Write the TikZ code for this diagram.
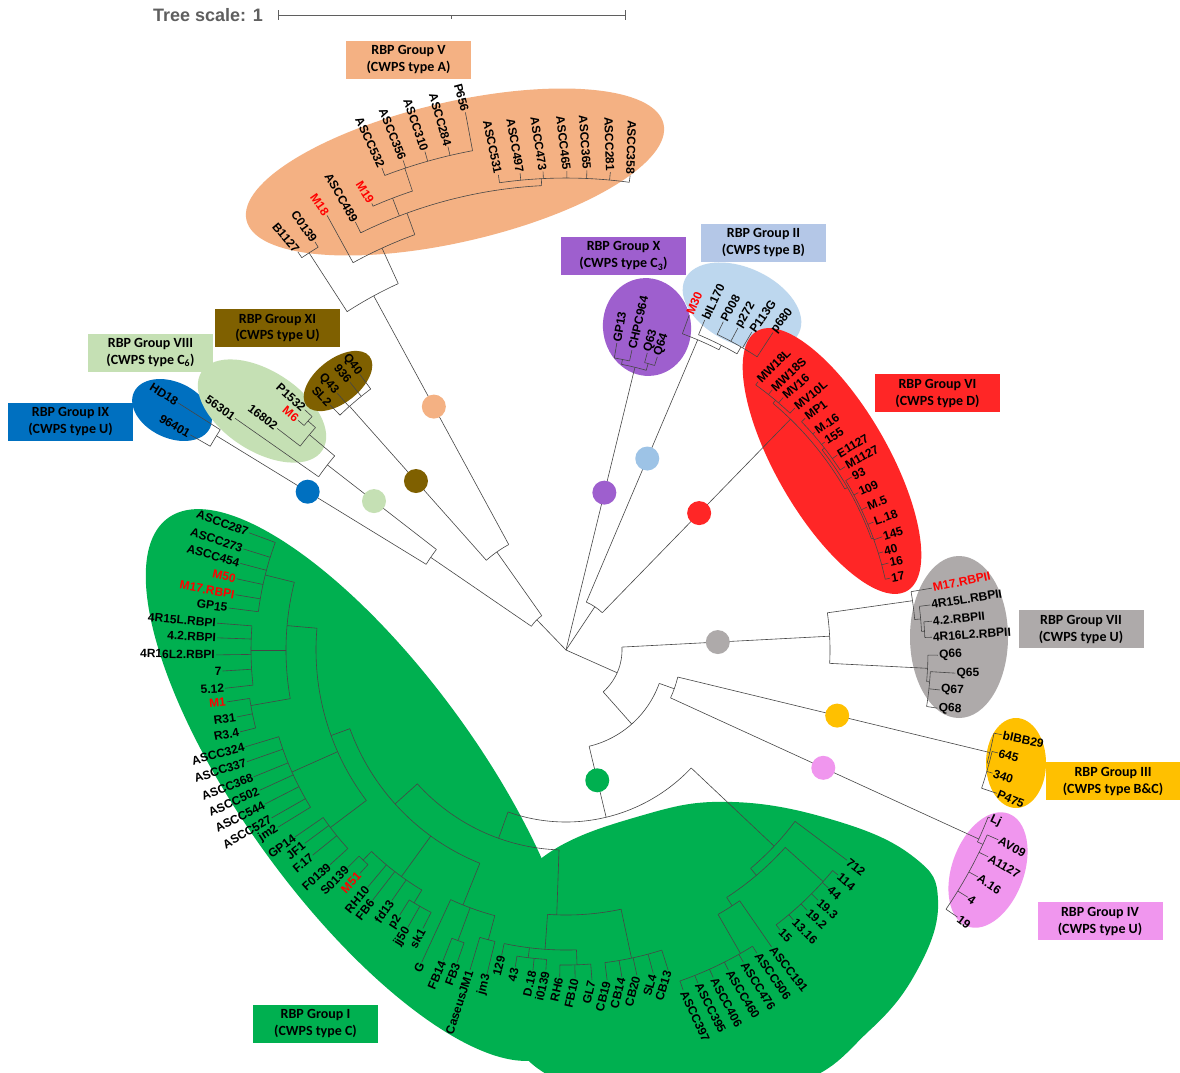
\documentclass[tikz,border=0pt]{standalone}
\usepackage{fontspec}
\setmainfont{Liberation Sans}
\newfontfamily\boxfont{Carlito}
\definecolor{grpV}{RGB}{244,177,131}
\definecolor{grpX}{RGB}{158,95,206}
\definecolor{grpII}{RGB}{189,215,238}
\definecolor{boxII}{RGB}{180,199,231}
\definecolor{dotII}{RGB}{157,195,230}
\definecolor{grpVI}{RGB}{255,38,38}
\definecolor{grpXI}{RGB}{127,96,0}
\definecolor{grpVIII}{RGB}{197,224,180}
\definecolor{grpIX}{RGB}{0,112,192}
\definecolor{grpVII}{RGB}{174,170,170}
\definecolor{grpIII}{RGB}{255,192,0}
\definecolor{grpIV}{RGB}{240,150,238}
\definecolor{grpI}{RGB}{0,176,80}
\definecolor{branch}{RGB}{70,70,70}
\definecolor{scalegray}{RGB}{95,95,95}
\definecolor{mred}{RGB}{255,0,0}

\begin{document}
\begin{tikzpicture}[x=1pt,y=-1pt,
  br/.style={draw=branch,line width=0.6pt},
  leaf/.style={inner sep=1pt,font=\bfseries\fontsize{12}{14}\selectfont},
  grpbox/.style={minimum width=125pt,minimum height=38pt,inner sep=0pt,align=center,
    font=\boxfont\bfseries\fontsize{14}{17}\selectfont},
  gdot/.style={circle,minimum size=24pt,inner sep=0pt}]
  \fill[white] (0,0) rectangle (1180,1072);
  \useasboundingbox (0,0) rectangle (1180,1072);

  % clade highlights
  \fill[grpI,rotate around={-54:(362,785)}] (362,785) ellipse [x radius=330,y radius=118];
  \fill[grpI] plot[smooth cycle,tension=0.7] coordinates
    {(543,857) (640,816) (733,802) (840,822) (915,858) (938,900) (920,965)
     (870,1030) (790,1085) (640,1095) (540,1070) (500,1000) (500,920)};
  \fill[grpV,rotate around={13:(455,172)}] (455,172) ellipse [x radius=214,y radius=70];
  \fill[grpX,rotate around={8:(647,327)}] (647,327) ellipse [x radius=44,y radius=49];
  \fill[grpII,rotate around={-25:(742,306)}] (742,306) ellipse [x radius=63,y radius=38];
  \fill[grpVI,rotate around={-60:(832,461)}] (832,461) ellipse [x radius=150,y radius=56];
  \fill[grpVII] (959,637) ellipse [x radius=49,y radius=81];
  \fill[grpIII] (1016,763) ellipse [x radius=30,y radius=45];
  \fill[grpIV,rotate around={-20:(988,870)}] (988,870) ellipse [x radius=36,y radius=60];
  \fill[grpIX,rotate around={-25:(172,410)}] (172,410) ellipse [x radius=42,y radius=28];
  \fill[grpVIII,rotate around={-33:(262,411)}] (262,411) ellipse [x radius=72,y radius=40];
  \fill[grpXI,rotate around={38:(338,381)}] (338,381) ellipse [x radius=40,y radius=22];

  % the tree, in polar coordinates round the root
  \begin{scope}[shift={(566,650)}]
    \foreach \pa/\pb/\rr in {-145.6/-125.2/42, -148.5/-142.2/164, -131.6/-118.5/120,
        -67/-45.8/52, -3/48.4/56, 19.7/76.5/99, 13.6/24.6/115, 43.3/109.7/172,
        -150.2/-147.5/410, -145/-140/302, -142.5/-138.4/335, -139.4/-137.4/345,
        -133.9/-126.8/326,
        -122.9/-114.6/403, -123.96/-121.6/473, -118.8/-110/442, -116.2/-93/465,
        -113.5/-108.5/484, -110.9/-100.6/508, -98.1/-82.3/472,
        -79/-74/291, -80.6/-77.6/296, -74.7/-72.7/298,
        -69.8/-63/337, -67.2/-60/342, -64.4/-56.9/350,
        -50/-30/322, -54.4/-46.6/326, -38/-20/325, -44.1/-33.3/328, -31.2/-12.5/327,
        -8.1/2.9/264, -9.6/-5/350, -7.05/-3/356, -4.5/-2/359, 0.8/5/362, 3.4/8.9/365,
        11/15/436, 13.4/18.4/438, 21.6/25/454, 23.7/34.3/460,
        36.8/49.8/286, 42/57/295, 39.6/52.6/346, 55.3/60.1/305, 57.8/71/350,
        92/138/200, 78/94/265, 88/101.9/300, 93.6/99.1/310, 85.5/91.1/315, 72.3/82.9/315,
        112/160/230, 105/114.8/275, 109.2/111.6/310, 103.7/106.7/300, 121/134/280,
        132.7/135.1/292, 117.2/122.1/295,
        143/185/250, 137.7/145.4/295, 148.4/163.2/300, 170/194/280, 187.1/200.3/310,
        173.6/184.4/315, 165.9/171.3/320}
      \draw[br] (\pa:\rr) arc[start angle=\pa,end angle=\pb,radius=\rr];
    \foreach \pa/\ra/\rr in {-134/0/42, -76.3/0/291, -56.3/0/52, 24/0/56,
        -145.6/42/164, -148.5/164/410, -142.2/164/302, -125.2/42/120, -131.6/120/326,
        -118.5/120/403, -67/52/337, -45.8/52/322, -3/56/264, 48.4/56/99, 19.7/99/115,
        13.6/115/436, 24.6/115/454, 76.5/99/172, 43.3/172/286, 109.7/172/200,
        -140/302/335, -138.4/335/345,
        -122.9/403/473, -114.6/403/442, -110/442/465, -111/465/484, -108.5/484/508, -93/465/472,
        -79/291/296, -74/291/298, -63/337/342, -60/342/350,
        -50/322/326, -30/322/325, -38/325/328, -20/325/327,
        -8.1/264/350, -5/350/356, -3/356/359, 2.9/264/362, 5/362/365,
        15/436/438, 25/454/460,
        49.8/286/295, 42/295/346, 57/295/305, 60.1/305/350,
        92/200/265, 94/265/300, 97/300/310, 88/300/315, 78/265/315,
        138/200/230, 112/230/275, 110.4/275/310, 105/275/300, 126/230/280, 134/280/292, 121/280/295,
        160/230/250, 143/250/295, 156/250/300, 185/250/280, 194/280/310, 180/280/315, 170/280/320}
      \draw[br] (\pa:\ra) -- (\pa:\rr);

    % clade dots
    \node[gdot,fill=grpV] (dV) at (-118.5:277) {};
    \node[gdot,fill=grpXI] (dXI) at (-131.6:226) {};
    \node[gdot,fill=grpVIII] (dVIII) at (-142.2:243) {};
    \node[gdot,fill=grpIX] (dIX) at (-148.5:303) {};
    \node[gdot,fill=grpX] (dX) at (-76.3:162) {};
    \node[gdot,fill=dotII] (dII) at (-67:208) {};
    \node[gdot,fill=grpVI] (dVI) at (-45.8:191) {};
    \node[gdot,fill=grpVII] (dVII) at (-3:152) {};
    \node[gdot,fill=grpIII] (dIII) at (13.6:279) {};
    \node[gdot,fill=grpIV] (dIV) at (24.6:283) {};
    \node[gdot,fill=grpI] (dI) at (76.5:134) {};

    % Group V
    \foreach \ang/\rr/\ra/\rot/\col/\lab [count=\i] in {
        -100.6/547/508/-75/black/P656, -103.2/517/508/-74/black/ASCC284,
        -105.8/518/508/-71/black/ASCC310, -108.4/516/508/-68/black/ASCC356,
        -110.9/516/508/-65/black/ASCC532, -113.5/487/484/-58/mred/M19,
        -116.2/477/465/-60/black/ASCC489, -118.8/496/442/-55/mred/M18,
        -121.6/479/473/-55/black/C0139, -123.96/480/473/-50/black/B1127,
        -98.1/480/472/-78/black/ASCC531, -95.5/479/472/-80/black/ASCC497,
        -92.75/479/472/-81/black/ASCC473, -89.9/479/472/-83/black/ASCC465,
        -87.5/480/472/-86/black/ASCC365, -84.7/480/472/-88/black/ASCC281,
        -82.3/479/472/-92/black/ASCC358}{
      \node[leaf,text=\col,rotate=\rot,anchor=east] (v\i) at (\ang:\rr) {\lab};
      \draw[br] (\ang:\ra) -- (v\i.east);
    }
    % Groups XI, VIII, IX
    \foreach \ang/\rr/\ra/\rot/\col/\lab [count=\i] in {
        -126.8/344/326/-53/black/Q40, -128.9/344/326/-51/black/936,
        -131.7/344/326/-48/black/Q43, -133.9/340/326/-46/black/SL2,
        -145/404/302/-35/black/56301, -142.5/364/335/-37/black/16802,
        -139.4/353/345/-40/mred/M6, -137.4/355/345/-42/black/P1532,
        -147.5/460/410/-32/black/HD18, -150.2/433/410/-30/black/96401}{
      \node[leaf,text=\col,rotate=\rot,anchor=east] (w\i) at (\ang:\rr) {\lab};
      \draw[br] (\ang:\ra) -- (w\i.east);
    }
    % Groups X, II, VI
    \foreach \ang/\rr/\ra/\rot/\col/\lab [count=\i] in {
        -80.6/311/296/80/black/GP13, -77.6/307/296/77/black/CHPC964,
        -74.7/308/298/74/black/Q63, -72.7/307/298/71/black/Q64,
        -69.8/357/337/67/mred/M30, -67.2/358/342/65/black/bIL170,
        -64.4/364/350/62/black/P008, -61.9/365/350/59/black/p272,
        -59.7/368/350/55/black/P113G, -56.9/379/350/52/black/p680,
        -54.4/330/326/45/black/MW18L, -51.6/332/326/43/black/MW18S,
        -49.3/333/326/41/black/MV16, -46.6/333/326/39/black/MV10L,
        -44.1/333/328/37/black/MP1, -41.2/331/328/35/black/M.16,
        -38.8/332/328/33/black/155, -35.7/334/328/31/black/E1127,
        -33.3/334/328/29/black/M1127, -31.2/334/327/27/black/93,
        -28.3/332/327/25/black/109, -25.4/333/327/22/black/M.5,
        -22.6/333/327/20/black/L.18, -19.7/336/327/17/black/145,
        -17.2/332/327/15/black/40, -15.1/334/327/12/black/16,
        -12.5/332/327/10/black/17}{
      \node[leaf,text=\col,rotate=\rot,anchor=west] (t\i) at (\ang:\rr) {\lab};
      \draw[br] (\ang:\ra) -- (t\i.west);
    }
    % Groups VII, III, IV
    \foreach \ang/\rr/\ra/\rot/\col/\lab [count=\i] in {
        -9.6/371/350/12/mred/M17.RBPII, -7.05/367/356/9/black/4R15L.RBPII,
        -4.5/367/359/6/black/4.2.RBPII, -2.0/366/359/4/black/4R16L2.RBPII,
        0.8/372/362/2/black/Q66, 3.4/390/365/0/black/Q65,
        6.1/376/365/-1/black/Q67, 8.9/376/365/-3/black/Q68,
        11/444/436/-12/black/bIBB29, 13.4/444/438/-15/black/645,
        16.1/444/438/-18/black/340, 18.4/454/438/-23/black/P475,
        21.6/456/454/-25/black/Lj, 23.7/472/460/-28/black/AV09,
        26.1/470/460/-30/black/A1127, 28.85/470/460/-33/black/A.16,
        31.6/472/460/-35/black/4, 34.3/474/460/-37/black/19}{
      \node[leaf,text=\col,rotate=\rot,anchor=west] (u\i) at (\ang:\rr) {\lab};
      \draw[br] (\ang:\ra) -- (u\i.west);
    }
    % Group I, right part
    \foreach \ang/\rr/\ra/\rot/\col/\lab [count=\i] in {
        36.8/351/286/-38/black/712, 39.6/353/346/-40/black/114,
        42.2/354/346/-40/black/44, 44.8/355/346/-42/black/19.3,
        47.2/355/346/-43/black/19.2, 49.9/353/346/-45/black/13.16,
        52.6/352/346/-45/black/15, 55.3/361/305/-52/black/ASCC191,
        57.8/358/350/-55/black/ASCC506, 60.4/359/350/-58/black/ASCC476,
        63.1/359/350/-59/black/ASCC460, 65.8/359/350/-62/black/ASCC406,
        68.4/358/350/-63/black/ASCC395, 71/360/350/-65/black/ASCC397}{
      \node[leaf,text=\col,rotate=\rot,anchor=west] (r\i) at (\ang:\rr) {\lab};
      \draw[br] (\ang:\ra) -- (r\i.west);
    }
    % Group I, left part
    \foreach \ang/\rr/\ra/\rot/\col/\lab [count=\i] in {
        200.3/338/310/-20/black/ASCC287, 197.4/338/310/-18/black/ASCC273,
        194.9/337/310/-16/black/ASCC454, 192.2/337/310/-13/mred/M50,
        189.5/335/310/-10/mred/M17.RBPI, 187.1/340/310/-8/black/GP15,
        184.4/350/315/-5/black/4R15L.RBPI, 182.0/349/315/-3/black/4.2.RBPI,
        179.2/350/315/-1/black/4R16L2.RBPI, 176.5/344/315/1/black/7,
        173.6/343/315/3/black/5.12, 171.3/343/320/5/mred/M1,
        168.5/336/320/8/black/R31, 165.9/336/320/11/black/R3.4,
        163.2/335/300/15/black/ASCC324, 160.7/338/300/18/black/ASCC337,
        157.9/337/300/21/black/ASCC368, 155.4/337/300/24/black/ASCC502,
        152.9/338/300/27/black/ASCC544, 150.3/339/300/30/black/ASCC527,
        148.4/338/300/33/black/jm2, 145.4/329/295/36/black/GP14,
        143.5/325/295/39/black/JF1, 141/326/295/40/black/F.17,
        137.7/319/295/42/black/F0139, 135.1/308/292/45/black/S0139,
        132.7/304/292/47/mred/M51, 129.9/309/280/50/black/RH10,
        127.7/316/280/52/black/FB6, 124.8/305/280/55/black/fd13,
        122.1/313/295/57/black/p2, 119.7/319/295/59/black/jj50,
        117.2/313/295/61/black/sk1, 114.8/344/275/64/black/G,
        111.6/334/310/67/black/FB14, 109.2/331/310/69/black/FB3,
        106.7/334/300/72/black/CaseusJM1, 103.7/333/300/75/black/jm3,
        101.9/312/300/76/black/129, 99.1/321/310/77/black/43,
        95.9/322/310/77/black/D.18, 93.6/321/310/77/black/i0139,
        91.1/327/315/77/black/RH6, 88.4/328/315/77/black/FB10,
        85.5/331/315/77/black/GL7, 82.9/333/315/76/black/CB19,
        80.3/332/315/76/black/CB14, 77.7/333/315/75/black/CB20,
        74.9/335/315/74/black/SL4, 72.3/336/315/73/black/CB13}{
      \node[leaf,text=\col,rotate=\rot,anchor=east] (l\i) at (\ang:\rr) {\lab};
      \draw[br] (\ang:\ra) -- (l\i.east);
    }
  \end{scope}

  % group boxes
  \node[grpbox,fill=grpV] (bV) at (408.5,60) {RBP Group V\\(CWPS type A)};
  \node[grpbox,fill=grpX] (bX) at (623.5,256) {RBP Group X\\(CWPS type C\textsubscript{3})};
  \node[grpbox,fill=boxII] (bII) at (763.5,243) {RBP Group II\\(CWPS type B)};
  \node[grpbox,fill=grpVI] (bVI) at (937.5,393) {RBP Group VI\\(CWPS type D)};
  \node[grpbox,fill=grpXI] (bXI) at (277.5,328) {RBP Group XI\\(CWPS type U)};
  \node[grpbox,fill=grpVIII] (bVIII) at (150.5,352.5) {RBP Group VIII\\(CWPS type C\textsubscript{6})};
  \node[grpbox,fill=grpIX] (bIX) at (70.5,421.5) {RBP Group IX\\(CWPS type U)};
  \node[grpbox,fill=grpVII] (bVII) at (1081,629) {RBP Group VII\\(CWPS type U)};
  \node[grpbox,fill=grpIII,minimum width=134pt] (bIII) at (1113,781) {RBP Group III\\(CWPS type B\&C)};
  \node[grpbox,fill=grpIV] (bIV) at (1100,921) {RBP Group IV\\(CWPS type U)};
  \node[grpbox,fill=grpI] (bI) at (315.5,1023.5) {RBP Group I\\(CWPS type C)};

  % tree scale
  \node[font=\bfseries\fontsize{18}{20}\selectfont,text=scalegray] (tscale) at (208,15) {Tree scale: 1};
  \draw[scalegray,line width=0.8pt] (278,15) -- (625,15);
  \draw[scalegray,line width=0.8pt] (278,10) -- (278,20) (625,10) -- (625,20) (451,15) -- (451,19);
\end{tikzpicture}
\end{document}
